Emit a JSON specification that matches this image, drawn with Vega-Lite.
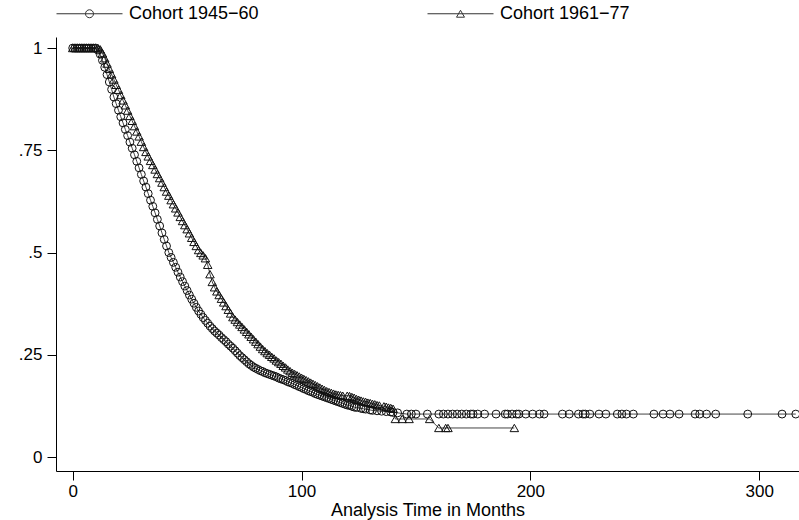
{
  "$schema": "https://vega.github.io/schema/vega-lite/v6.json",
  "width": 743,
  "height": 434,
  "autosize": {"type": "none"},
  "padding": {"left": 56, "top": 37, "right": 0, "bottom": 49},
  "background": "white",
  "config": {
    "view": {"stroke": null},
    "font": "Liberation Sans",
    "axis": {"domainColor": "#000", "tickColor": "#000", "labelColor": "#000", "titleColor": "#000", "labelFont": "Liberation Sans", "titleFont": "Liberation Sans", "labelFontSize": 17, "titleFontSize": 18, "titleFontWeight": "normal", "tickSize": 9, "grid": false, "domainWidth": 1, "tickWidth": 1}
  },
  "data": {"values": [
    {"c":"1945−60","t":0,"s":1},{"c":"1945−60","t":1,"s":1},{"c":"1945−60","t":2,"s":1},{"c":"1945−60","t":3,"s":1},{"c":"1945−60","t":4,"s":1},{"c":"1945−60","t":5,"s":1},{"c":"1945−60","t":6,"s":1},{"c":"1945−60","t":7,"s":1},{"c":"1945−60","t":8,"s":1},{"c":"1945−60","t":9,"s":1},{"c":"1945−60","t":10,"s":1},
    {"c":"1945−60","t":11,"s":0.995},{"c":"1945−60","t":12,"s":0.985},{"c":"1945−60","t":13,"s":0.97},{"c":"1945−60","t":14,"s":0.953},{"c":"1945−60","t":15,"s":0.935},{"c":"1945−60","t":16,"s":0.917},{"c":"1945−60","t":17,"s":0.899},{"c":"1945−60","t":18,"s":0.88},{"c":"1945−60","t":19,"s":0.864},{"c":"1945−60","t":20,"s":0.848},
    {"c":"1945−60","t":21,"s":0.832},{"c":"1945−60","t":22,"s":0.817},{"c":"1945−60","t":23,"s":0.801},{"c":"1945−60","t":24,"s":0.786},{"c":"1945−60","t":25,"s":0.77},{"c":"1945−60","t":26,"s":0.755},{"c":"1945−60","t":27,"s":0.739},{"c":"1945−60","t":28,"s":0.723},{"c":"1945−60","t":29,"s":0.707},{"c":"1945−60","t":30,"s":0.691},
    {"c":"1945−60","t":31,"s":0.675},{"c":"1945−60","t":32,"s":0.66},{"c":"1945−60","t":33,"s":0.644},{"c":"1945−60","t":34,"s":0.628},{"c":"1945−60","t":35,"s":0.613},{"c":"1945−60","t":36,"s":0.597},{"c":"1945−60","t":37,"s":0.581},{"c":"1945−60","t":38,"s":0.565},{"c":"1945−60","t":39,"s":0.548},{"c":"1945−60","t":40,"s":0.532},
    {"c":"1945−60","t":41,"s":0.516},{"c":"1945−60","t":42,"s":0.5},{"c":"1945−60","t":43,"s":0.488},{"c":"1945−60","t":44,"s":0.476},{"c":"1945−60","t":45,"s":0.464},{"c":"1945−60","t":46,"s":0.452},{"c":"1945−60","t":47,"s":0.44},{"c":"1945−60","t":48,"s":0.429},{"c":"1945−60","t":49,"s":0.418},{"c":"1945−60","t":50,"s":0.407},
    {"c":"1945−60","t":51,"s":0.396},{"c":"1945−60","t":52,"s":0.386},{"c":"1945−60","t":53,"s":0.376},{"c":"1945−60","t":54,"s":0.366},{"c":"1945−60","t":55,"s":0.357},{"c":"1945−60","t":56,"s":0.349},{"c":"1945−60","t":57,"s":0.341},{"c":"1945−60","t":58,"s":0.334},{"c":"1945−60","t":59,"s":0.327},{"c":"1945−60","t":60,"s":0.32},
    {"c":"1945−60","t":61,"s":0.314},{"c":"1945−60","t":62,"s":0.308},{"c":"1945−60","t":63,"s":0.303},{"c":"1945−60","t":64,"s":0.298},{"c":"1945−60","t":65,"s":0.292},{"c":"1945−60","t":66,"s":0.287},{"c":"1945−60","t":67,"s":0.282},{"c":"1945−60","t":68,"s":0.276},{"c":"1945−60","t":69,"s":0.271},{"c":"1945−60","t":70,"s":0.266},
    {"c":"1945−60","t":71,"s":0.26},{"c":"1945−60","t":72,"s":0.254},{"c":"1945−60","t":73,"s":0.248},{"c":"1945−60","t":74,"s":0.243},{"c":"1945−60","t":75,"s":0.238},{"c":"1945−60","t":76,"s":0.233},{"c":"1945−60","t":77,"s":0.228},{"c":"1945−60","t":78,"s":0.224},{"c":"1945−60","t":79,"s":0.22},{"c":"1945−60","t":80,"s":0.217},
    {"c":"1945−60","t":81,"s":0.214},{"c":"1945−60","t":82,"s":0.211},{"c":"1945−60","t":83,"s":0.209},{"c":"1945−60","t":84,"s":0.206},{"c":"1945−60","t":85,"s":0.204},{"c":"1945−60","t":86,"s":0.202},{"c":"1945−60","t":87,"s":0.2},{"c":"1945−60","t":88,"s":0.198},{"c":"1945−60","t":89,"s":0.196},{"c":"1945−60","t":90,"s":0.193},
    {"c":"1945−60","t":91,"s":0.191},{"c":"1945−60","t":92,"s":0.189},{"c":"1945−60","t":93,"s":0.187},{"c":"1945−60","t":94,"s":0.184},{"c":"1945−60","t":95,"s":0.182},{"c":"1945−60","t":96,"s":0.18},{"c":"1945−60","t":97,"s":0.177},{"c":"1945−60","t":98,"s":0.175},{"c":"1945−60","t":99,"s":0.172},{"c":"1945−60","t":100,"s":0.17},
    {"c":"1945−60","t":101,"s":0.167},{"c":"1945−60","t":102,"s":0.165},{"c":"1945−60","t":103,"s":0.162},{"c":"1945−60","t":104,"s":0.16},{"c":"1945−60","t":105,"s":0.158},{"c":"1945−60","t":106,"s":0.155},{"c":"1945−60","t":107,"s":0.153},{"c":"1945−60","t":108,"s":0.151},{"c":"1945−60","t":109,"s":0.149},{"c":"1945−60","t":110,"s":0.147},
    {"c":"1945−60","t":111,"s":0.145},{"c":"1945−60","t":112,"s":0.143},{"c":"1945−60","t":113,"s":0.141},{"c":"1945−60","t":114,"s":0.139},{"c":"1945−60","t":115,"s":0.137},{"c":"1945−60","t":116,"s":0.135},{"c":"1945−60","t":117,"s":0.133},{"c":"1945−60","t":118,"s":0.131},{"c":"1945−60","t":119,"s":0.129},{"c":"1945−60","t":120,"s":0.127},
    {"c":"1945−60","t":121,"s":0.126},{"c":"1945−60","t":122,"s":0.124},{"c":"1945−60","t":123,"s":0.122},{"c":"1945−60","t":124,"s":0.121},{"c":"1945−60","t":126,"s":0.119},{"c":"1945−60","t":127,"s":0.118},{"c":"1945−60","t":128,"s":0.117},{"c":"1945−60","t":130,"s":0.115},{"c":"1945−60","t":131,"s":0.114},{"c":"1945−60","t":133,"s":0.113},
    {"c":"1945−60","t":135,"s":0.112},{"c":"1945−60","t":137,"s":0.111},{"c":"1945−60","t":139,"s":0.11},{"c":"1945−60","t":140,"s":0.109},{"c":"1945−60","t":142,"s":0.108},{"c":"1945−60","t":146,"s":0.105},{"c":"1945−60","t":148,"s":0.105},{"c":"1945−60","t":150,"s":0.105},{"c":"1945−60","t":155,"s":0.105},{"c":"1945−60","t":160,"s":0.105},
    {"c":"1945−60","t":162,"s":0.105},{"c":"1945−60","t":164,"s":0.105},{"c":"1945−60","t":166,"s":0.105},{"c":"1945−60","t":168,"s":0.105},{"c":"1945−60","t":170,"s":0.105},{"c":"1945−60","t":172,"s":0.105},{"c":"1945−60","t":174,"s":0.105},{"c":"1945−60","t":175,"s":0.105},{"c":"1945−60","t":177,"s":0.105},{"c":"1945−60","t":180,"s":0.105},
    {"c":"1945−60","t":185,"s":0.105},{"c":"1945−60","t":189,"s":0.105},{"c":"1945−60","t":190,"s":0.105},{"c":"1945−60","t":192,"s":0.105},{"c":"1945−60","t":194,"s":0.105},{"c":"1945−60","t":195,"s":0.105},{"c":"1945−60","t":198,"s":0.105},{"c":"1945−60","t":201,"s":0.105},{"c":"1945−60","t":204,"s":0.105},{"c":"1945−60","t":206,"s":0.105},
    {"c":"1945−60","t":214,"s":0.105},{"c":"1945−60","t":217,"s":0.105},{"c":"1945−60","t":221,"s":0.105},{"c":"1945−60","t":223,"s":0.105},{"c":"1945−60","t":224,"s":0.105},{"c":"1945−60","t":226,"s":0.105},{"c":"1945−60","t":230,"s":0.105},{"c":"1945−60","t":233,"s":0.105},{"c":"1945−60","t":238,"s":0.105},{"c":"1945−60","t":240,"s":0.105},
    {"c":"1945−60","t":242,"s":0.105},{"c":"1945−60","t":245,"s":0.105},{"c":"1945−60","t":254,"s":0.105},{"c":"1945−60","t":258,"s":0.105},{"c":"1945−60","t":261,"s":0.105},{"c":"1945−60","t":265,"s":0.105},{"c":"1945−60","t":272,"s":0.105},{"c":"1945−60","t":274,"s":0.105},{"c":"1945−60","t":277,"s":0.105},{"c":"1945−60","t":281,"s":0.105},
    {"c":"1945−60","t":295,"s":0.105},{"c":"1945−60","t":310,"s":0.105},{"c":"1945−60","t":316,"s":0.105},

    {"c":"1961−77","t":0,"s":1},{"c":"1961−77","t":1,"s":1},{"c":"1961−77","t":2,"s":1},{"c":"1961−77","t":3,"s":1},{"c":"1961−77","t":4,"s":1},{"c":"1961−77","t":5,"s":1},{"c":"1961−77","t":6,"s":1},{"c":"1961−77","t":7,"s":1},{"c":"1961−77","t":8,"s":1},{"c":"1961−77","t":9,"s":1},{"c":"1961−77","t":10,"s":1},{"c":"1961−77","t":11,"s":1},
    {"c":"1961−77","t":12,"s":0.997},{"c":"1961−77","t":13,"s":0.987},{"c":"1961−77","t":14,"s":0.975},{"c":"1961−77","t":15,"s":0.962},{"c":"1961−77","t":16,"s":0.949},{"c":"1961−77","t":17,"s":0.936},{"c":"1961−77","t":18,"s":0.923},{"c":"1961−77","t":19,"s":0.91},{"c":"1961−77","t":20,"s":0.898},
    {"c":"1961−77","t":21,"s":0.885},{"c":"1961−77","t":22,"s":0.872},{"c":"1961−77","t":23,"s":0.86},{"c":"1961−77","t":24,"s":0.847},{"c":"1961−77","t":25,"s":0.834},{"c":"1961−77","t":26,"s":0.822},{"c":"1961−77","t":27,"s":0.809},{"c":"1961−77","t":28,"s":0.796},{"c":"1961−77","t":29,"s":0.784},{"c":"1961−77","t":30,"s":0.771},
    {"c":"1961−77","t":31,"s":0.758},{"c":"1961−77","t":32,"s":0.746},{"c":"1961−77","t":33,"s":0.735},{"c":"1961−77","t":34,"s":0.724},{"c":"1961−77","t":35,"s":0.714},{"c":"1961−77","t":36,"s":0.703},{"c":"1961−77","t":37,"s":0.692},{"c":"1961−77","t":38,"s":0.682},{"c":"1961−77","t":39,"s":0.671},{"c":"1961−77","t":40,"s":0.66},
    {"c":"1961−77","t":41,"s":0.649},{"c":"1961−77","t":42,"s":0.639},{"c":"1961−77","t":43,"s":0.628},{"c":"1961−77","t":44,"s":0.618},{"c":"1961−77","t":45,"s":0.608},{"c":"1961−77","t":46,"s":0.598},{"c":"1961−77","t":47,"s":0.587},{"c":"1961−77","t":48,"s":0.577},{"c":"1961−77","t":49,"s":0.567},{"c":"1961−77","t":50,"s":0.557},
    {"c":"1961−77","t":51,"s":0.547},{"c":"1961−77","t":52,"s":0.536},{"c":"1961−77","t":53,"s":0.526},{"c":"1961−77","t":54,"s":0.516},{"c":"1961−77","t":55,"s":0.506},{"c":"1961−77","t":56,"s":0.499},{"c":"1961−77","t":57,"s":0.493},{"c":"1961−77","t":58,"s":0.486},{"c":"1961−77","t":59,"s":0.47},{"c":"1961−77","t":60,"s":0.447},
    {"c":"1961−77","t":61,"s":0.428},{"c":"1961−77","t":62,"s":0.415},{"c":"1961−77","t":63,"s":0.405},{"c":"1961−77","t":64,"s":0.396},{"c":"1961−77","t":65,"s":0.387},{"c":"1961−77","t":66,"s":0.378},{"c":"1961−77","t":67,"s":0.369},{"c":"1961−77","t":68,"s":0.36},{"c":"1961−77","t":69,"s":0.351},{"c":"1961−77","t":70,"s":0.342},
    {"c":"1961−77","t":71,"s":0.336},{"c":"1961−77","t":72,"s":0.33},{"c":"1961−77","t":73,"s":0.324},{"c":"1961−77","t":74,"s":0.318},{"c":"1961−77","t":75,"s":0.312},{"c":"1961−77","t":76,"s":0.306},{"c":"1961−77","t":77,"s":0.3},{"c":"1961−77","t":78,"s":0.294},{"c":"1961−77","t":79,"s":0.288},{"c":"1961−77","t":80,"s":0.282},
    {"c":"1961−77","t":81,"s":0.276},{"c":"1961−77","t":82,"s":0.27},{"c":"1961−77","t":83,"s":0.264},{"c":"1961−77","t":84,"s":0.259},{"c":"1961−77","t":85,"s":0.254},{"c":"1961−77","t":86,"s":0.25},{"c":"1961−77","t":87,"s":0.245},{"c":"1961−77","t":88,"s":0.241},{"c":"1961−77","t":89,"s":0.236},{"c":"1961−77","t":90,"s":0.232},
    {"c":"1961−77","t":91,"s":0.228},{"c":"1961−77","t":92,"s":0.223},{"c":"1961−77","t":93,"s":0.219},{"c":"1961−77","t":94,"s":0.214},{"c":"1961−77","t":95,"s":0.21},{"c":"1961−77","t":96,"s":0.206},{"c":"1961−77","t":97,"s":0.203},{"c":"1961−77","t":98,"s":0.2},{"c":"1961−77","t":99,"s":0.197},{"c":"1961−77","t":100,"s":0.194},
    {"c":"1961−77","t":101,"s":0.191},{"c":"1961−77","t":102,"s":0.188},{"c":"1961−77","t":103,"s":0.185},{"c":"1961−77","t":104,"s":0.182},{"c":"1961−77","t":105,"s":0.179},{"c":"1961−77","t":106,"s":0.176},{"c":"1961−77","t":107,"s":0.173},{"c":"1961−77","t":108,"s":0.17},{"c":"1961−77","t":109,"s":0.167},{"c":"1961−77","t":110,"s":0.164},
    {"c":"1961−77","t":111,"s":0.161},{"c":"1961−77","t":112,"s":0.159},{"c":"1961−77","t":113,"s":0.157},{"c":"1961−77","t":114,"s":0.155},{"c":"1961−77","t":115,"s":0.153},{"c":"1961−77","t":116,"s":0.152},{"c":"1961−77","t":117,"s":0.151},{"c":"1961−77","t":118,"s":0.15},{"c":"1961−77","t":120,"s":0.15},{"c":"1961−77","t":121,"s":0.149},
    {"c":"1961−77","t":122,"s":0.147},{"c":"1961−77","t":123,"s":0.145},{"c":"1961−77","t":124,"s":0.142},{"c":"1961−77","t":125,"s":0.14},{"c":"1961−77","t":126,"s":0.138},{"c":"1961−77","t":127,"s":0.136},{"c":"1961−77","t":128,"s":0.135},{"c":"1961−77","t":129,"s":0.133},{"c":"1961−77","t":130,"s":0.132},{"c":"1961−77","t":131,"s":0.13},
    {"c":"1961−77","t":132,"s":0.129},{"c":"1961−77","t":133,"s":0.127},{"c":"1961−77","t":134,"s":0.126},{"c":"1961−77","t":136,"s":0.124},{"c":"1961−77","t":137,"s":0.123},{"c":"1961−77","t":138,"s":0.121},{"c":"1961−77","t":139,"s":0.12},{"c":"1961−77","t":140,"s":0.118},
    {"c":"1961−77","t":141,"s":0.093},{"c":"1961−77","t":144,"s":0.093},{"c":"1961−77","t":147,"s":0.093},{"c":"1961−77","t":156,"s":0.093},{"c":"1961−77","t":160,"s":0.071},{"c":"1961−77","t":163,"s":0.071},{"c":"1961−77","t":164,"s":0.071},{"c":"1961−77","t":193,"s":0.071}
  ]},
  "encoding": {
    "x": {"field": "t", "type": "quantitative", "scale": {"domain": [-7.3, 317.4], "nice": false, "zero": false},
      "axis": {"values": [0, 100, 200, 300], "title": "Analysis Time in Months", "labelPadding": 3, "titlePadding": 2}},
    "y": {"field": "s", "type": "quantitative", "scale": {"domain": [-0.0342, 1.027], "nice": false, "zero": false},
      "axis": {"values": [0, 0.25, 0.5, 0.75, 1], "title": null, "labelPadding": 5,
        "labelExpr": "datum.value == 0 ? '0' : datum.value == 1 ? '1' : replace(format(datum.value, '.2~f'), '0.', '.')"}}
  },
  "layer": [
    {"mark": {"type": "line", "stroke": "#444", "strokeWidth": 1, "clip": true},
     "encoding": {"detail": {"field": "c", "type": "nominal"}}},
    {"mark": {"type": "point", "filled": false, "stroke": "#111", "strokeWidth": 1, "opacity": 1, "clip": true},
     "encoding": {
       "shape": {"field": "c", "type": "nominal", "scale": {"domain": ["1945−60", "1961−77"], "range": ["circle", "triangle-up"]}, "legend": null},
       "size": {"field": "c", "type": "nominal", "scale": {"domain": ["1945−60", "1961−77"], "range": [62, 72]}, "legend": null}
     }},
    {"transform": [{"filter": "datum.t < -100"}],
     "mark": {"type": "point", "filled": false, "stroke": "#333", "strokeWidth": 1},
     "encoding": {
       "shape": {"field": "c", "type": "nominal",
         "scale": {"domain": ["1945−60", "1961−77"], "range": [
           "M-1,0H1M0.121,0A0.121,0.121,0,1,1,-0.121,0A0.121,0.121,0,1,1,0.121,0",
           "M-1,0H1M0,-0.105L0.121,0.105L-0.121,0.105Z"]},
         "legend": {"title": null, "orient": "none", "legendX": 0, "legendY": -57, "direction": "horizontal", "padding": 0,
           "symbolSize": 4356, "symbolStrokeWidth": 1, "symbolStrokeColor": "#333", "symbolFillColor": "transparent", "symbolOpacity": 1,
           "labelFontSize": 18, "labelFont": "Liberation Sans", "labelColor": "#000", "labelOffset": 6, "columnPadding": 166,
           "labelExpr": "'Cohort ' + datum.label"}}
     }}
  ],
  "resolve": {"scale": {"shape": "independent"}, "legend": {"shape": "independent"}}
}
